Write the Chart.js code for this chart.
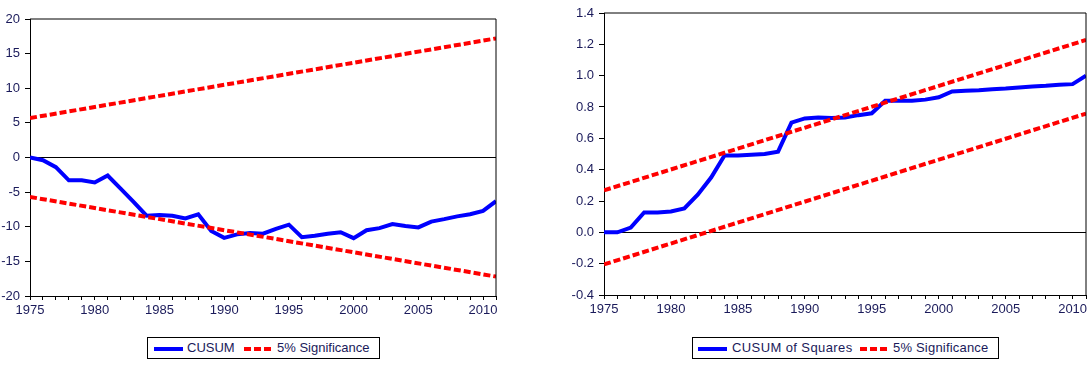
<!DOCTYPE html>
<html>
<head>
<meta charset="utf-8">
<script src="https://cdn.jsdelivr.net/npm/chart.js@4.4.1/dist/chart.umd.min.js"></script>
<style>
  body { margin: 0; background: #fff; width: 1092px; height: 374px; position: relative; overflow: hidden; font-family: "Liberation Sans", Arial, sans-serif; }
  canvas { position: absolute; top: 0; }
  .legend { position: absolute; border: 1px solid #000; box-sizing: border-box; height: 22px; top: 337px; }
  .legend span { position: absolute; top: 2px; font-size: 13px; color: #1a1a5a; white-space: nowrap; }
  .legend svg { position: absolute; top: 9px; }
</style>
</head>
<body>
<canvas id="cusum-chart" width="500" height="320" style="left:0px"></canvas>
<canvas id="cusumsq-chart" width="530" height="320" style="left:560px"></canvas>

<div class="legend" style="left:147px; width:233px;">
  <svg width="30" height="4" style="left:6px"><line x1="0" y1="2" x2="29" y2="2" stroke="#0000ff" stroke-width="4"/></svg>
  <span style="left:39px">CUSUM</span>
  <svg width="30" height="4" style="left:96px"><line x1="0" y1="2" x2="29" y2="2" stroke="#ff0000" stroke-width="4" stroke-dasharray="7 3"/></svg>
  <span style="left:129px">5% Significance</span>
</div>

<div class="legend" style="left:692px; width:307px;">
  <svg width="30" height="4" style="left:5px"><line x1="0" y1="2" x2="29" y2="2" stroke="#0000ff" stroke-width="4"/></svg>
  <span style="left:39px; letter-spacing:0.4px">CUSUM of Squares</span>
  <svg width="30" height="4" style="left:167px"><line x1="0" y1="2" x2="29" y2="2" stroke="#ff0000" stroke-width="4" stroke-dasharray="7 3"/></svg>
  <span style="left:200px; letter-spacing:0.2px">5% Significance</span>
</div>

<script>
const years = [1975, 1976, 1977, 1978, 1979, 1980, 1981, 1982, 1983, 1984,
               1985, 1986, 1987, 1988, 1989, 1990, 1991, 1992, 1993, 1994,
               1995, 1996, 1997, 1998, 1999, 2000, 2001, 2002, 2003, 2004,
               2005, 2006, 2007, 2008, 2009, 2010, 2011];

const cusum = [0, -0.4, -1.4, -3.3, -3.3, -3.6, -2.6, -4.5, -6.4, -8.4,
               -8.3, -8.4, -8.8, -8.2, -10.6, -11.6, -11.1, -10.9, -11.0, -10.3,
               -9.7, -11.5, -11.3, -11.0, -10.8, -11.65, -10.5, -10.2, -9.6, -9.9,
               -10.1, -9.25, -8.9, -8.5, -8.2, -7.7, -6.3];

const cusumSq = [0, 0, 0.03, 0.127, 0.127, 0.133, 0.153, 0.24, 0.35, 0.49,
                 0.49, 0.495, 0.5, 0.515, 0.70, 0.727, 0.733, 0.73, 0.733, 0.748,
                 0.76, 0.84, 0.84, 0.84, 0.847, 0.862, 0.899, 0.903, 0.907, 0.914,
                 0.918, 0.925, 0.931, 0.935, 0.942, 0.946, 1.0];

// significance bands are straight lines, read at both ends
const boundYears = [1975, 2011];
const cusumUpper = [5.7, 17.2];
const cusumLower = [-5.7, -17.2];
const sqUpper = [0.268, 1.228];
const sqLower = [-0.205, 0.758];

const tickColor = '#1a1a5a';
const tickFont = { family: "'Liberation Sans', Arial, sans-serif", size: 13 };

function pts(xs, ys) {
    return xs.map((x, i) => ({ x: x, y: ys[i] }));
}

// top and right edges of the plot box
const framePlugin = {
    id: 'frame',
    afterDraw(chart) {
        const a = chart.chartArea;
        const ctx = chart.ctx;
        ctx.save();
        ctx.strokeStyle = '#000';
        ctx.lineWidth = 1;
        ctx.beginPath();
        ctx.moveTo(a.left, a.top);
        ctx.lineTo(a.right, a.top);
        ctx.lineTo(a.right, a.bottom);
        ctx.stroke();
        ctx.restore();
    }
};

function makeChart(id, mainData, upper, lower, yOpts, axisWidth, padding) {
    const ctx = document.getElementById(id).getContext('2d');
    return new Chart(ctx, {
        type: 'line',
        data: {
            datasets: [
                { data: pts(years, mainData), borderColor: '#0000ff', borderWidth: 4, pointRadius: 0, tension: 0, order: 2 },
                { data: pts(boundYears, upper), borderColor: '#ff0000', borderWidth: 4, borderDash: [7, 3], pointRadius: 0, order: 1 },
                { data: pts(boundYears, lower), borderColor: '#ff0000', borderWidth: 4, borderDash: [7, 3], pointRadius: 0, order: 1 }
            ]
        },
        options: {
            responsive: false,
            animation: false,
            devicePixelRatio: 1,
            layout: { padding: padding },
            plugins: { legend: { display: false }, tooltip: { enabled: false } },
            scales: {
                x: {
                    type: 'linear',
                    min: 1975,
                    max: 2011,
                    afterFit: s => { s.height = 20; },
                    border: { display: true, color: '#000', width: 1 },
                    grid: { drawOnChartArea: false, drawTicks: true, tickLength: 4, tickColor: '#000' },
                    ticks: {
                        stepSize: 1,
                        autoSkip: false,
                        maxRotation: 0,
                        padding: 3,
                        color: tickColor,
                        font: tickFont,
                        callback: v => (v % 5 === 0 ? String(v) : '')
                    }
                },
                y: {
                    min: yOpts.min,
                    max: yOpts.max,
                    afterFit: s => { s.width = axisWidth; },
                    border: { display: true, color: '#000', width: 1 },
                    grid: {
                        color: c => (c.tick && Math.abs(c.tick.value) < 1e-9 ? '#000' : 'rgba(0,0,0,0)'),
                        tickColor: '#000',
                        tickLength: 5,
                        lineWidth: 1
                    },
                    ticks: {
                        stepSize: yOpts.step,
                        padding: 5,
                        color: tickColor,
                        font: tickFont,
                        callback: yOpts.fmt
                    }
                }
            }
        },
        plugins: [framePlugin]
    });
}

makeChart('cusum-chart', cusum, cusumUpper, cusumLower,
    { min: -20, max: 20, step: 5, fmt: v => String(Math.round(v)) },
    30, { top: 19, right: 4, bottom: 4, left: 0 });

makeChart('cusumsq-chart', cusumSq, sqUpper, sqLower,
    { min: -0.4, max: 1.4, step: 0.2, fmt: v => (Math.abs(v) < 1e-9 ? 0 : v).toFixed(1) },
    44, { top: 13, right: 4, bottom: 5, left: 0 });
</script>
</body>
</html>
